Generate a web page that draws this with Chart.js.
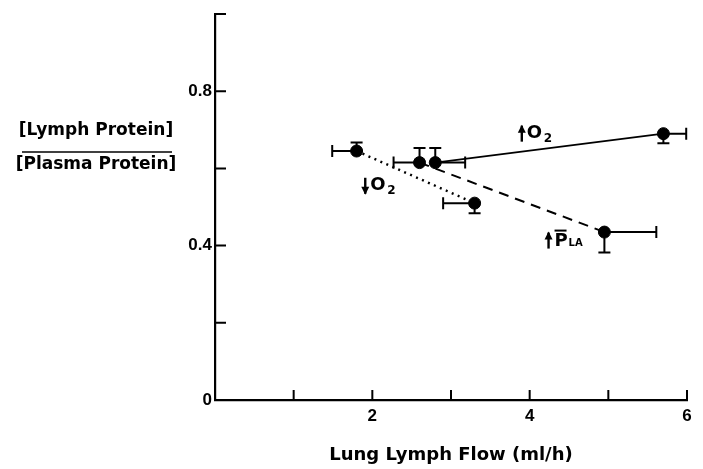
<!DOCTYPE html>
<html>
<head>
<meta charset="utf-8">
<script src="https://cdn.jsdelivr.net/npm/chart.js@4.4.0/dist/chart.umd.min.js"></script>
<style>
  html, body { margin: 0; padding: 0; background: #fff; }
  #wrap { width: 703px; height: 469px; position: relative; }
</style>
</head>
<body>
<div id="wrap"><canvas id="lymphChart"></canvas></div>
<script>
// lung lymph flow (ml/h) and lymph/plasma protein ratio
const flow = [1.8, 2.6, 2.8, 5.7, 3.3, 4.95];
const ratio = [0.645, 0.615, 0.615, 0.69, 0.51, 0.435];
// one-sided error bars (sign gives direction)
const flowErr = [-0.31, -0.33, 0.38, 0.29, -0.40, 0.66];
const ratioErr = [0.022, 0.038, 0.038, -0.025, -0.026, -0.053];
// which points each connecting line joins
const lowO2Line = [0, 4];
const highO2Line = [2, 3];
const highPlaLine = [1, 5];
const xTicks = [0, 1, 2, 3, 4, 5, 6];
const xLabels = ['', '', '2', '', '4', '', '6'];
const yTicks = [0, 0.2, 0.4, 0.6, 0.8, 1.0];
const yLabels = ['0', '', '0.4', '', '0.8', ''];

const TICKFONT = '"Liberation Sans", Arial, sans-serif';
const FONT = '"DejaVu Sans", sans-serif';
const pts = (idx) => idx.map(i => ({ x: flow[i], y: ratio[i] }));

// error bars + inward axis ticks
const extras = {
  id: 'extras',
  afterDatasetsDraw(chart) {
    const { ctx, scales: { x, y } } = chart;
    ctx.save();
    ctx.strokeStyle = '#000';
    ctx.lineWidth = 2;
    ctx.lineCap = 'butt';
    flow.forEach((fx, i) => {
      const px = x.getPixelForValue(fx), py = y.getPixelForValue(ratio[i]);
      const ex = x.getPixelForValue(fx + flowErr[i]);
      const ey = y.getPixelForValue(ratio[i] + ratioErr[i]);
      ctx.beginPath();
      ctx.moveTo(px, py); ctx.lineTo(ex, py);
      ctx.moveTo(ex, py - 6); ctx.lineTo(ex, py + 6);
      ctx.moveTo(px, py); ctx.lineTo(px, ey);
      ctx.moveTo(px - 6, ey); ctx.lineTo(px + 6, ey);
      ctx.stroke();
    });
    // inward ticks
    const x0 = x.left, y0 = y.bottom;
    ctx.beginPath();
    yTicks.forEach(v => {
      if (v === 0) return;
      const py = y.getPixelForValue(v);
      ctx.moveTo(x0, py); ctx.lineTo(x0 + 11, py);
    });
    xTicks.forEach(v => {
      if (v === 0) return;
      const px = x.getPixelForValue(v);
      ctx.moveTo(px, y0); ctx.lineTo(px, y0 - 10);
    });
    ctx.stroke();
    ctx.restore();
  }
};

// arrows, O2 / PLA labels and the ratio title
function arrow(ctx, x, y, up) {
  ctx.beginPath();
  ctx.moveTo(x, y - 8); ctx.lineTo(x, y + 8);
  ctx.stroke();
  ctx.beginPath();
  if (up) { ctx.moveTo(x - 4, y - 1); ctx.lineTo(x, y - 9); ctx.lineTo(x + 4, y - 1); }
  else { ctx.moveTo(x - 4, y + 1); ctx.lineTo(x, y + 9); ctx.lineTo(x + 4, y + 1); }
  ctx.closePath();
  ctx.fill();
}
const notes = {
  id: 'notes',
  afterDraw(chart) {
    const { ctx, scales: { x, y } } = chart;
    ctx.save();
    ctx.fillStyle = '#000';
    ctx.strokeStyle = '#000';
    ctx.lineWidth = 2.4;
    ctx.textBaseline = 'middle';
    ctx.textAlign = 'left';

    const o2 = (vx, vy, up) => {
      const px = x.getPixelForValue(vx), py = y.getPixelForValue(vy);
      arrow(ctx, px, py, up);
      ctx.font = 'bold 18px ' + FONT;
      ctx.fillText('O', px + 5, py);
      ctx.font = 'bold 12px ' + FONT;
      ctx.fillText('2', px + 22, py + 5);
    };
    o2(3.9, 0.69, true);
    o2(1.91, 0.555, false);

    const px = x.getPixelForValue(4.24), py = y.getPixelForValue(0.413);
    arrow(ctx, px, py, true);
    ctx.font = 'bold 18px ' + FONT;
    ctx.fillText('P', px + 6, py + 1);
    ctx.beginPath();
    ctx.moveTo(px + 6, py - 10); ctx.lineTo(px + 18, py - 10);
    ctx.lineWidth = 2; ctx.stroke();
    ctx.font = 'bold 10px ' + FONT;
    ctx.fillText('LA', px + 20, py + 3);

    // y title as a fraction
    ctx.font = 'bold 17px ' + FONT;
    ctx.textAlign = 'center';
    ctx.fillText('[Lymph Protein]', 96, 131);
    ctx.fillText('[Plasma Protein]', 96, 165);
    ctx.beginPath();
    ctx.lineWidth = 1.5;
    ctx.moveTo(22, 152); ctx.lineTo(172, 152);
    ctx.stroke();
    ctx.restore();
  }
};

const lineSet = (idx, dash, width) => ({
  data: pts(idx),
  showLine: true,
  borderColor: '#000',
  borderWidth: width,
  borderDash: dash,
  pointRadius: 0,
  fill: false
});

new Chart(document.getElementById('lymphChart'), {
  type: 'scatter',
  data: {
    datasets: [
      lineSet(lowO2Line, [2, 4.5], 2.4),
      lineSet(highO2Line, [], 1.8),
      lineSet(highPlaLine, [10, 7], 2),
      {
        data: flow.map((v, i) => ({ x: v, y: ratio[i] })),
        pointRadius: 6,
        pointBackgroundColor: '#000',
        pointBorderColor: '#000',
        showLine: false
      }
    ]
  },
  options: {
    responsive: true,
    maintainAspectRatio: false,
    animation: false,
    layout: { padding: { top: 14, right: 16, left: 0, bottom: 0 } },
    plugins: { legend: { display: false }, tooltip: { enabled: false } },
    scales: {
      x: {
        type: 'linear',
        min: 0, max: 6,
        afterBuildTicks: s => { s.ticks = xTicks.map(v => ({ value: v })); },
        afterFit: s => { s.height = 69; },
        grid: { drawOnChartArea: false, drawTicks: false },
        border: { color: '#000', width: 2.2 },
        ticks: {
          padding: 6,
          color: '#000',
          font: { family: TICKFONT, size: 17, weight: 'bold' },
          maxRotation: 0,
          callback: (v) => xLabels[xTicks.indexOf(v)] ?? ''
        },
        title: {
          display: true,
          text: 'Lung Lymph Flow (ml/h)',
          color: '#000',
          font: { family: FONT, size: 18, weight: 'bold' },
          padding: { top: 0, bottom: 3 }
        }
      },
      y: {
        type: 'linear',
        min: 0, max: 1.0,
        afterBuildTicks: s => { s.ticks = yTicks.map(v => ({ value: v })); },
        afterFit: s => { s.width = 215; },
        grid: { drawOnChartArea: false, drawTicks: false },
        border: { color: '#000', width: 2.2 },
        ticks: {
          padding: 3,
          color: '#000',
          font: { family: TICKFONT, size: 17, weight: 'bold' },
          callback: (v) => yLabels[yTicks.indexOf(v)] ?? ''
        }
      }
    }
  },
  plugins: [extras, notes]
});
</script>
</body>
</html>
